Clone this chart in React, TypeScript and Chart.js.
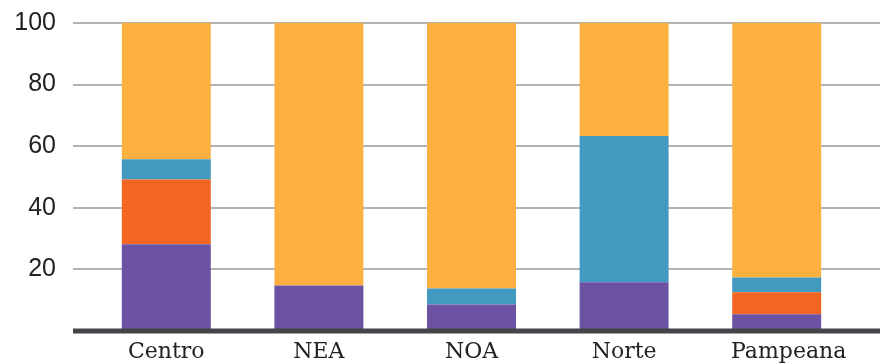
import React, { useEffect, useRef } from "react";
import { Chart, registerables } from "chart.js";

Chart.register(...registerables);

const categories = ["Centro", "NEA", "NOA", "Norte", "Pampeana"];
const labelShifts = [0, 0, 0, 0, 12];
const purpleValues = [28.2, 14.8, 8.6, 15.8, 5.4];
const orangeValues = [21.0, 0, 0, 0, 7.2];
const blueValues = [6.6, 0, 5.2, 47.5, 4.8];
const yellowValues = [44.2, 85.2, 86.2, 36.7, 82.6];
const yTicks = [0, 20, 40, 60, 80, 100];

const baseLinePlugin = {
  id: "baseLine",
  beforeDraw(chart: any) {
    const sx = chart.scales.x;
    if (sx && sx.getLabelItems) {
      const items = sx.getLabelItems();
      items.forEach((it: any, i: number) => {
        if (!it._shifted && it.options && it.options.translation) {
          it.options.translation[0] += labelShifts[i] || 0;
          it._shifted = true;
        }
      });
    }
  },
  afterDatasetsDraw(chart: any) {
    const { ctx, scales } = chart;
    const y = scales.y.getPixelForValue(0);
    ctx.save();
    ctx.strokeStyle = "#454448";
    ctx.lineWidth = 5;
    ctx.beginPath();
    ctx.moveTo(73, y);
    ctx.lineTo(chart.width, y);
    ctx.stroke();
    ctx.restore();
  },
};

export default function App() {
  const ref = useRef<HTMLCanvasElement>(null);
  useEffect(() => {
    document.body.style.margin = "0";
    const canvas = ref.current!;
    const chart = new Chart(canvas, {
      type: "bar",
      data: {
        labels: categories,
        datasets: [
          { label: "a", data: purpleValues, backgroundColor: "#6B52A3" },
          { label: "b", data: orangeValues, backgroundColor: "#F26522" },
          { label: "c", data: blueValues, backgroundColor: "#439AC1" },
          { label: "d", data: yellowValues, backgroundColor: "#FBB040" },
        ],
      },
      plugins: [baseLinePlugin],
      options: {
        responsive: false,
        animation: false,
        maintainAspectRatio: false,
        layout: { padding: { top: 23, left: 0, right: 0, bottom: 0 } },
        plugins: { legend: { display: false }, tooltip: { enabled: false } },
        datasets: { bar: { categoryPercentage: 1, barPercentage: 0.583, borderWidth: 0 } },
        scales: {
          x: {
            stacked: true,
            grid: { display: false, drawTicks: false },
            border: { display: false },
            ticks: {
              color: "#222",
              font: { family: "'DejaVu Serif'", size: 22 },
              padding: 8,
              maxRotation: 0,
            },
            afterFit: (s: any) => {
              s.height = 32;
              s.paddingLeft = 0;
              s.paddingRight = 0;
            },
          },
          y: {
            stacked: true,
            min: 0,
            max: 100,
            afterBuildTicks: (s: any) => {
              s.ticks = yTicks.map((v) => ({ value: v }));
            },
            grid: {
              color: "#b3b3b3",
              lineWidth: 2,
              drawTicks: true,
              tickLength: 17,
            },
            border: { display: false },
            ticks: {
              color: "#222",
              font: { family: "'Liberation Sans'", size: 25 },
              padding: 17,
              callback: (v: any) => (v === 0 ? "" : String(v)),
            },
            afterFit: (s: any) => {
              s.width = 90;
              s.paddingTop = 0;
              s.paddingBottom = 0;
            },
          },
          y2: {
            position: "right",
            min: 0,
            max: 100,
            afterBuildTicks: (s: any) => {
              s.ticks = yTicks.map((v) => ({ value: v }));
            },
            grid: {
              color: "#b3b3b3",
              lineWidth: 2,
              drawTicks: true,
              tickLength: 27,
              drawOnChartArea: false,
            },
            border: { display: false },
            ticks: { display: false },
            afterFit: (s: any) => {
              s.width = 27;
              s.paddingTop = 0;
              s.paddingBottom = 0;
            },
          },
        },
      },
    });
    return () => chart.destroy();
  }, []);
  return <canvas ref={ref} width={880} height={363} style={{ display: "block" }} />;
}
